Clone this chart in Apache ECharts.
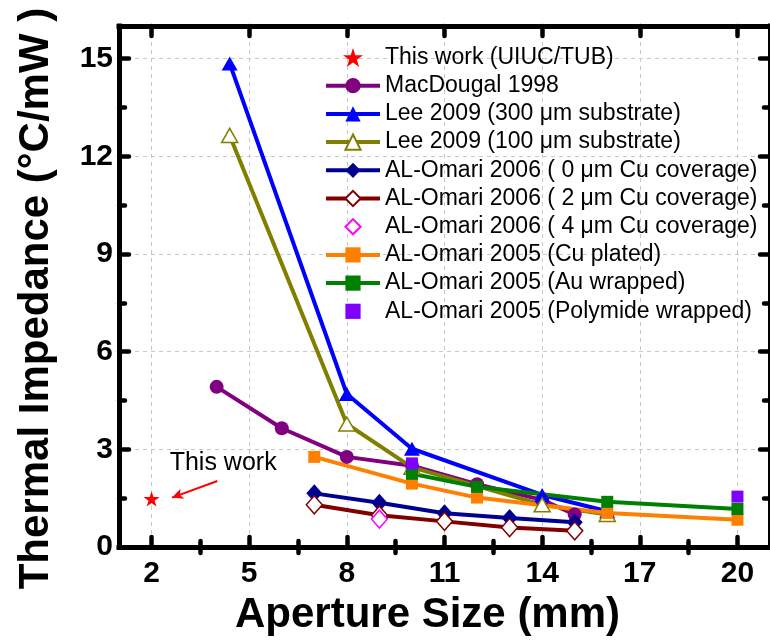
<!DOCTYPE html>
<html>
<head>
<meta charset="utf-8">
<script src="https://cdn.jsdelivr.net/npm/echarts@6/dist/echarts.min.js"></script>
<style>
  html, body { margin: 0; padding: 0; background: #fff; }
  #chart { width: 770px; height: 641px; }
</style>
</head>
<body>
<div id="chart"></div>
<script>
const FONT = '"Liberation Sans", Arial, Helvetica, sans-serif';

// Axis ticks
const xMajorTicks = [2, 5, 8, 11, 14, 17, 20];
const xMinorTicks = [3.5, 6.5, 9.5, 12.5, 15.5, 18.5];
const yMinorTicks = [1.5, 4.5, 7.5, 10.5, 13.5];

// Aperture size (x) vs. thermal impedance (y)
const thisWorkX = [2];
const thisWorkY = [1.48];
const macDougalX = [4, 6, 8, 10, 12, 14, 15];
const macDougalY = [4.92, 3.65, 2.77, 2.5, 1.93, 1.45, 1.0];
const lee300X = [4.4, 8, 10, 14, 16];
const lee300Y = [14.85, 4.7, 3.02, 1.6, 1.1];
const lee100X = [4.4, 8, 10, 14, 16];
const lee100Y = [12.64, 3.78, 2.45, 1.3, 1.0];
const omari06Cu0X = [7, 9, 11, 13, 15];
const omari06Cu0Y = [1.65, 1.36, 1.04, 0.89, 0.76];
const omari06Cu2X = [7, 9, 11, 13, 15];
const omari06Cu2Y = [1.3, 0.98, 0.79, 0.6, 0.5];
const omari06Cu4X = [9];
const omari06Cu4Y = [0.86];
const omari05CuX = [7, 10, 12, 16, 20];
const omari05CuY = [2.77, 1.95, 1.52, 1.05, 0.84];
const omari05AuX = [10, 12, 16, 20];
const omari05AuY = [2.25, 1.85, 1.39, 1.17];
const omari05PolyX = [10, 20];
const omari05PolyY = [2.57, 1.55];

// Annotation pointing at the "This work" point (data units)
const noteText = 'This work';
const noteAt = [4.2, 2.58];
const arrowFrom = [4.02, 2.03];
const arrowTo = [2.63, 1.52];

const pairs = (xs, ys) => xs.map((x, i) => [x, ys[i]]);

const STAR = 'path://M100,0 L122.45,69.1 L195.1,69.1 L136.3,111.8 L158.8,180.9 L100,138.2 L41.2,180.9 L63.7,111.8 L4.9,69.1 L77.55,69.1 Z';

// Connected series (line + markers); markersOnly hides the connecting line
function makeSeries(name, xs, ys, color, symbol, size, hollow, markersOnly) {
  return {
    name, type: 'line', data: pairs(xs, ys),
    symbol, symbolSize: size, showSymbol: true, symbolKeepAspect: true,
    lineStyle: markersOnly ? { color, width: 0, opacity: 0 } : { color, width: 4 },
    itemStyle: hollow
      ? { color: '#fff', borderColor: color, borderWidth: 1.5 }
      : { color },
    emphasis: { disabled: true },
    animation: false
  };
}

const thisWork = makeSeries('This work (UIUC/TUB)', thisWorkX, thisWorkY, '#ff0000', STAR, 16, false, true);
thisWork.markLine = {
  silent: true, animation: false,
  symbol: ['none', 'arrow'], symbolSize: [8, 11],
  lineStyle: { color: '#ff0000', width: 2, type: 'solid', opacity: 1 },
  label: { show: false },
  data: [[{ coord: arrowFrom }, { coord: arrowTo }]]
};
thisWork.markPoint = {
  silent: true, animation: false,
  symbol: 'circle', symbolSize: 0,
  label: { show: true, position: 'inside', formatter: noteText, color: '#000', fontSize: 25, fontFamily: FONT },
  data: [{ coord: noteAt }]
};

const series = [
  thisWork,
  makeSeries('MacDougal 1998', macDougalX, macDougalY, '#800080', 'circle', 14, false, false),
  makeSeries('Lee 2009 (300 \u03bcm substrate)', lee300X, lee300Y, '#0000ff', 'triangle', [16, 14], false, false),
  makeSeries('Lee 2009 (100 \u03bcm substrate)', lee100X, lee100Y, '#808000', 'triangle', [16, 14], true, false),
  makeSeries('AL-Omari 2006 ( 0 \u03bcm Cu coverage)', omari06Cu0X, omari06Cu0Y, '#000090', 'diamond', [16, 18], false, false),
  makeSeries('AL-Omari 2006 ( 2 \u03bcm Cu coverage)', omari06Cu2X, omari06Cu2Y, '#800000', 'diamond', [16, 18], true, false),
  makeSeries('AL-Omari 2006 ( 4 \u03bcm Cu coverage)', omari06Cu4X, omari06Cu4Y, '#ff00ff', 'diamond', [16, 18], true, true),
  makeSeries('AL-Omari 2005 (Cu plated)', omari05CuX, omari05CuY, '#ff8000', 'rect', 12, false, false),
  makeSeries('AL-Omari 2005 (Au wrapped)', omari05AuX, omari05AuY, '#008000', 'rect', 12, false, false),
  makeSeries('AL-Omari 2005 (Polymide wrapped)', omari05PolyX, omari05PolyY, '#8000ff', 'rect', 12, false, true)
];

const frameLine = { show: true, onZero: false, lineStyle: { color: '#000', width: 5, cap: 'square' } };
const gridLine = { show: true, lineStyle: { color: '#c8c8c8', width: 1, type: [4, 4] } };
const majorTick = (vals) => ({ show: true, inside: true, length: 10, customValues: vals, lineStyle: { color: '#000', width: 4.5, cap: 'round' } });
const minorTick = (vals) => ({ show: true, inside: true, length: 6, customValues: vals, lineStyle: { color: '#000', width: 4.5, cap: 'round' } });
const tickLabel = { fontSize: 30, fontWeight: 'bold', fontFamily: FONT, color: '#000' };

const X_MIN = 1, X_MAX = 21, Y_MIN = 0, Y_MAX = 16;

const option = {
  backgroundColor: '#fff',
  animation: false,
  grid: { left: 119, top: 26, width: 654, height: 525.5, containLabel: false },
  legend: {
    orient: 'vertical', left: 319, top: 41,
    itemWidth: 54, itemHeight: 19, itemGap: 5.2,
    selectedMode: false,
    lineStyle: { width: 4 },
    textStyle: { fontSize: 23, fontFamily: FONT, color: '#000' },
    data: series.map((s, i) => (i === 0 ? { name: s.name, icon: STAR } : s.name))
  },
  xAxis: [
    {
      type: 'value', min: X_MIN, max: X_MAX, position: 'bottom',
      axisLine: frameLine,
      axisTick: majorTick(xMajorTicks),
      axisLabel: Object.assign({ customValues: xMajorTicks, margin: 12 }, tickLabel),
      splitLine: gridLine,
      name: 'Aperture Size (mm)', nameLocation: 'middle', nameGap: 35,
      nameTextStyle: { fontSize: 42, fontWeight: 'bold', fontFamily: FONT, color: '#000', padding: [0, 34, 0, 0] }
    },
    { type: 'value', min: X_MIN, max: X_MAX, position: 'bottom', axisLine: { show: false }, axisTick: minorTick(xMinorTicks), axisLabel: { show: false }, splitLine: { show: false } },
    { type: 'value', min: X_MIN, max: X_MAX, position: 'top', axisLine: frameLine, axisTick: majorTick(xMajorTicks), axisLabel: { show: false }, splitLine: { show: false } },
    { type: 'value', min: X_MIN, max: X_MAX, position: 'top', axisLine: { show: false }, axisTick: minorTick(xMinorTicks), axisLabel: { show: false }, splitLine: { show: false } }
  ],
  yAxis: [
    {
      type: 'value', min: Y_MIN, max: Y_MAX, interval: 3, position: 'left',
      axisLine: frameLine,
      axisTick: { show: true, inside: true, length: 10, lineStyle: { color: '#000', width: 4.5, cap: 'round' } },
      axisLabel: Object.assign({ margin: 6, showMaxLabel: false }, tickLabel),
      splitLine: gridLine,
      name: 'Thermal Impedance (\u00b0C/mW )', nameLocation: 'middle', nameGap: 62, nameRotate: 90,
      nameTextStyle: { fontSize: 42, fontWeight: 'bold', fontFamily: FONT, color: '#000', padding: [0, 24, 0, 0] }
    },
    { type: 'value', min: Y_MIN, max: Y_MAX, position: 'left', axisLine: { show: false }, axisTick: minorTick(yMinorTicks), axisLabel: { show: false }, splitLine: { show: false } },
    { type: 'value', min: Y_MIN, max: Y_MAX, interval: 3, position: 'right', axisLine: frameLine,
      axisTick: { show: true, inside: true, length: 10, lineStyle: { color: '#000', width: 4.5, cap: 'round' } },
      axisLabel: { show: false }, splitLine: { show: false } },
    { type: 'value', min: Y_MIN, max: Y_MAX, position: 'right', axisLine: { show: false }, axisTick: minorTick(yMinorTicks), axisLabel: { show: false }, splitLine: { show: false } }
  ],
  series: series.map(s => Object.assign(s, { xAxisIndex: 0, yAxisIndex: 0 }))
};

const chart = echarts.init(document.getElementById('chart'), null, { renderer: 'canvas' });
chart.setOption(option);
</script>
</body>
</html>
